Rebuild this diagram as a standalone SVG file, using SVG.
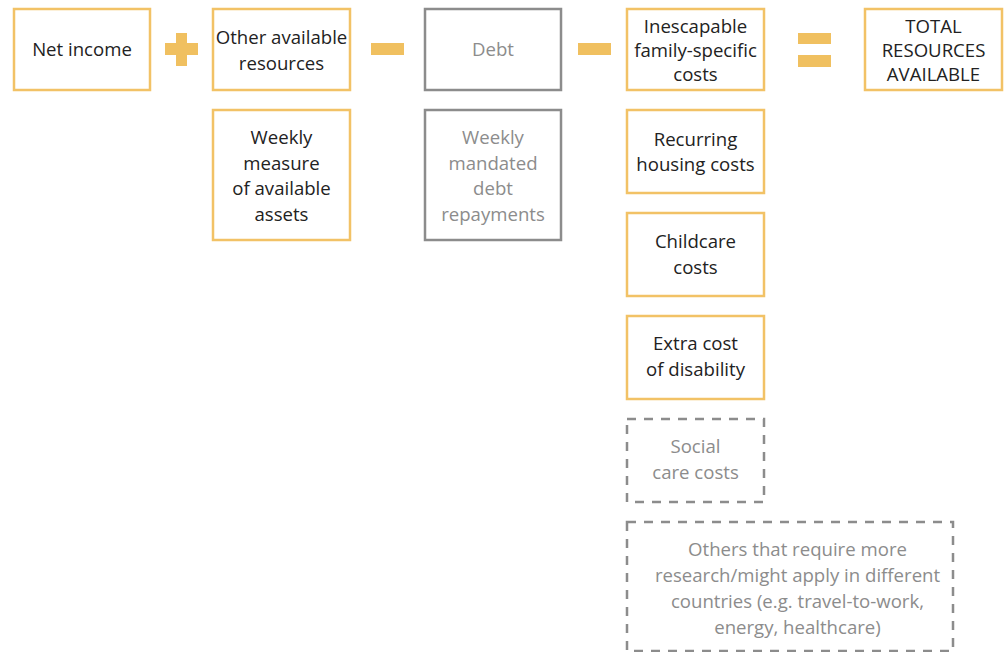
<svg xmlns="http://www.w3.org/2000/svg" width="1005" height="652" viewBox="0 0 1005 652">
<style>
.box{fill:#fff;stroke:#F2C266;stroke-width:2.5}
.gbox{fill:#fff;stroke:#8C8C8C;stroke-width:2.5}
.dbox{fill:#fff;stroke:#8C8C8C;stroke-width:2.5;stroke-dasharray:9 8}
.op{fill:#F0C060}
text{font-family:"Open Sans","Noto Sans",sans-serif;font-size:18.6px;text-anchor:middle}
.t{fill:#222}
.g{fill:#8C8C8C}
</style>
<rect width="1005" height="652" fill="#fff"/>
<g id="net-income"><rect class="box" x="14" y="9" width="136" height="81"/><text class="t" x="82" y="56">Net income</text></g>
<g id="other-resources"><rect class="box" x="213" y="9" width="137" height="81"/><text class="t" x="281.5" y="44">Other available</text><text class="t" x="281.5" y="70">resources</text></g>
<g id="debt"><rect class="gbox" x="425" y="9" width="136" height="81"/><text class="g" x="493" y="56">Debt</text></g>
<g id="inescapable"><rect class="box" x="627" y="9" width="137" height="81"/><text class="t" x="695.5" y="33">Inescapable</text><text class="t" x="695.5" y="57">family-specific</text><text class="t" x="695.5" y="81">costs</text></g>
<g id="total"><rect class="box" x="865" y="9" width="137" height="81"/><text class="t" x="933.5" y="33">TOTAL</text><text class="t" x="933.5" y="57">RESOURCES</text><text class="t" x="933.5" y="81">AVAILABLE</text></g>
<g id="weekly-assets"><rect class="box" x="213" y="110" width="137" height="130"/><text class="t" x="281.5" y="144">Weekly</text><text class="t" x="281.5" y="170">measure</text><text class="t" x="281.5" y="195">of available</text><text class="t" x="281.5" y="221">assets</text></g>
<g id="weekly-debt"><rect class="gbox" x="425" y="110" width="136" height="130"/><text class="g" x="493" y="144">Weekly</text><text class="g" x="493" y="170">mandated</text><text class="g" x="493" y="195">debt</text><text class="g" x="493" y="221">repayments</text></g>
<g id="housing"><rect class="box" x="627" y="110" width="137" height="83"/><text class="t" x="695.5" y="146">Recurring</text><text class="t" x="695.5" y="171">housing costs</text></g>
<g id="childcare"><rect class="box" x="627" y="213" width="137" height="83"/><text class="t" x="695.5" y="248">Childcare</text><text class="t" x="695.5" y="274">costs</text></g>
<g id="disability"><rect class="box" x="627" y="316" width="137" height="83"/><text class="t" x="695.5" y="350">Extra cost</text><text class="t" x="695.5" y="376">of disability</text></g>
<g id="social-care"><rect class="dbox" x="627" y="419" width="137" height="83"/><text class="g" x="695.5" y="453">Social</text><text class="g" x="695.5" y="479">care costs</text></g>
<g id="others"><rect class="dbox" x="627" y="522" width="326" height="129"/><text class="g" x="797.5" y="556">Others that require more</text><text class="g" x="797.5" y="582">research/might apply in different</text><text class="g" x="797.5" y="608">countries (e.g. travel-to-work,</text><text class="g" x="797.5" y="634">energy, healthcare)</text></g>
<g id="connectors">
<rect class="op" x="165" y="43" width="33" height="12"/><rect class="op" x="176" y="33" width="11" height="33"/>
<rect class="op" x="371" y="43" width="33" height="12"/>
<rect class="op" x="578" y="43" width="33" height="12"/>
<rect class="op" x="798" y="33" width="33" height="11"/><rect class="op" x="798" y="55" width="33" height="12"/>
</g>
</svg>
